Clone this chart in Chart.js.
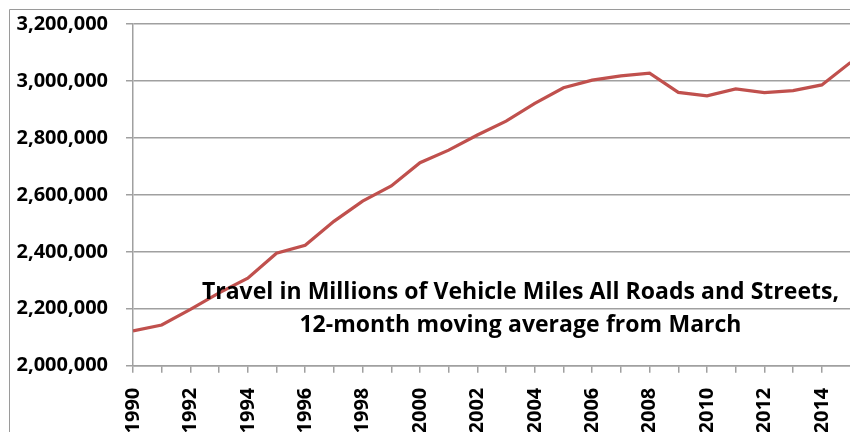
<!DOCTYPE html>
<html>
<head>
<meta charset="utf-8">
<script src="https://cdn.jsdelivr.net/npm/chart.js@4.4.1/dist/chart.umd.min.js"></script>
<style>
  html, body { margin: 0; padding: 0; background: #fff; overflow: hidden; width: 850px; height: 432px; }
  #wrap { position: relative; width: 870px; height: 432px; }
  canvas { display: block; }
</style>
</head>
<body>
<div id="wrap"><canvas id="c" width="870" height="432"></canvas></div>
<script>
const years = [1990,1991,1992,1993,1994,1995,1996,1997,1998,1999,2000,2001,2002,2003,2004,2005,2006,2007,2008,2009,2010,2011,2012,2013,2014,2015];
const vmt = [2122000,2143000,2198000,2256000,2307000,2395000,2423000,2507000,2578000,2631000,2713000,2757000,2810000,2859000,2921000,2976000,3003000,3018000,3027000,2960000,2948000,2972000,2959000,2966000,2986000,3065000];
const yTicks = [2000000,2200000,2400000,2600000,2800000,3000000,3200000];
const noteLines = ["Travel in Millions of Vehicle Miles All Roads and Streets,", "12-month moving average from March"];

const FONT = "'Open Sans', 'Liberation Sans', sans-serif";
const GRID = '#a0a0a0';

const frame = {
  id: 'frame',
  beforeDraw(chart) {
    const ctx = chart.ctx;
    ctx.save();
    ctx.strokeStyle = '#9a9a9a';
    ctx.lineWidth = 1;
    ctx.beginPath();
    ctx.moveTo(9.5, 432);
    ctx.lineTo(9.5, 9.5);
    ctx.lineTo(870, 9.5);
    ctx.stroke();
    ctx.restore();
  }
};

function fitLine(ctx, text, cx, cy, target, size) {
  let fs = size;
  ctx.font = "bold " + fs + "px " + FONT;
  try { ctx.wordSpacing = '0px'; } catch (e) {}
  let w = ctx.measureText(text).width;
  if (w > target) {
    fs = fs * target / w;
    ctx.font = "bold " + fs + "px " + FONT;
  } else {
    const spaces = (text.match(/ /g) || []).length;
    try { ctx.wordSpacing = ((target - w) / spaces) + 'px'; } catch (e) {}
  }
  ctx.fillText(text, cx, cy);
}

const note = {
  id: 'note',
  afterDatasetsDraw(chart) {
    const ctx = chart.ctx;
    const xs = chart.scales.x, ys = chart.scales.y;
    ctx.save();
    ctx.fillStyle = '#000';
    ctx.textAlign = 'center';
    ctx.textBaseline = 'alphabetic';
    const cx = xs.getPixelForValue(2003.5);
    fitLine(ctx, noteLines[0], cx, ys.getPixelForValue(2235000), 637, 23);
    fitLine(ctx, noteLines[1], cx, ys.getPixelForValue(2117000), 442, 23);
    ctx.restore();
  }
};

new Chart(document.getElementById('c'), {
  type: 'line',
  data: {
    datasets: [{
      data: years.map((y, i) => ({ x: y, y: vmt[i] })),
      borderColor: '#c0504d',
      borderWidth: 3.2,
      pointRadius: 0,
      tension: 0,
      fill: false
    }]
  },
  options: {
    responsive: false,
    animation: false,
    layout: { padding: { top: 24, left: 0, right: 19.5, bottom: 0 } },
    plugins: { legend: { display: false }, tooltip: { enabled: false } },
    scales: {
      x: {
        type: 'linear',
        min: 1990, max: 2015,
        afterFit(scale) {
          scale.height = 66.3;
          scale.paddingTop = 0; scale.paddingBottom = 0;
          scale.paddingLeft = 0; scale.paddingRight = 0;
        },
        afterBuildTicks(scale) { scale.ticks = years.map(v => ({ value: v })); },
        ticks: {
          autoSkip: false,
          minRotation: 90, maxRotation: 90,
          padding: 15,
          color: '#000',
          font: { family: FONT, size: 20, weight: 'bold' },
          callback: v => (v % 2 === 0 && v <= 2014) ? String(v) : ''
        },
        grid: { drawOnChartArea: false, drawTicks: true, tickLength: 7, color: GRID, lineWidth: 1.5 },
        border: { display: true, color: GRID, width: 1.5 }
      },
      y: {
        min: 2000000, max: 3200000,
        afterFit(scale) { scale.width = 133; scale.paddingTop = 0; scale.paddingBottom = 0; },
        afterBuildTicks(scale) { scale.ticks = yTicks.map(v => ({ value: v })); },
        ticks: {
          padding: 18,
          color: '#000',
          font: { family: FONT, size: 20, weight: 'bold' },
          callback: v => Number(v).toLocaleString('en-US')
        },
        grid: { color: GRID, lineWidth: 1.5, tickLength: 7, drawTicks: true },
        border: { display: true, color: GRID, width: 1.5 }
      }
    }
  },
  plugins: [frame, note]
});
</script>
</body>
</html>
